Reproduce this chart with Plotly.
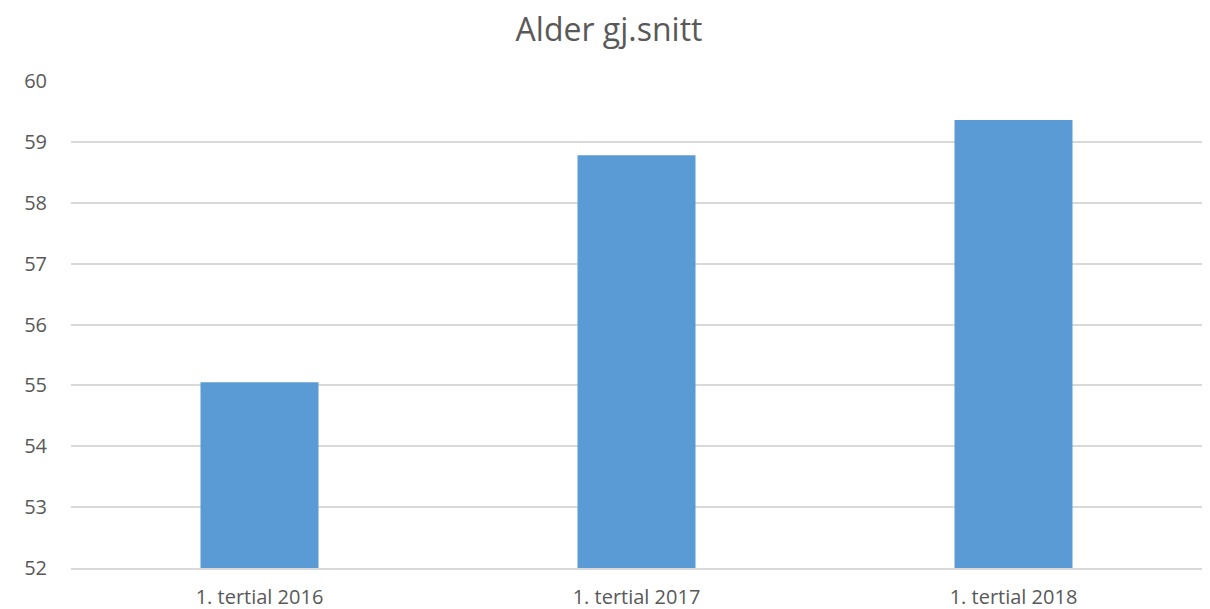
import plotly.graph_objects as go

categories = ["1. tertial 2016", "1. tertial 2017", "1. tertial 2018"]
values = [55.05, 58.78, 59.36]
y_ticks = [52, 53, 54, 55, 56, 57, 58, 59, 60]

fig = go.Figure(go.Bar(x=categories, y=values, marker=dict(color="#5b9bd5", line=dict(width=0))))

fig.update_layout(
    width=1202, height=601,
    margin=dict(l=63, r=8, t=73, b=41),
    paper_bgcolor="white", plot_bgcolor="white",
    bargap=0.687,
    font=dict(family="Open Sans", color="#595959", size=20),
    title=dict(text="Alder gj.snitt", x=0.5, xanchor="center", y=1 - 22 / 601, yanchor="middle",
               font=dict(size=32, color="#595959", family="Open Sans")),
    showlegend=False,
)
fig.update_xaxes(showgrid=False, showline=True, linecolor="#d9d9d9", linewidth=1.5,
                 ticks="", tickfont=dict(size=20, color="#595959"), ticklabelstandoff=10,
                 automargin=False)
fig.update_yaxes(range=[52, 60], tickvals=y_ticks, showgrid=True, gridcolor="#d9d9d9",
                 gridwidth=1.5, zeroline=False, showline=False, ticks="",
                 tickfont=dict(size=20, color="#595959"), ticklabelstandoff=23,
                 automargin=False)

fig.write_html("out.html")
